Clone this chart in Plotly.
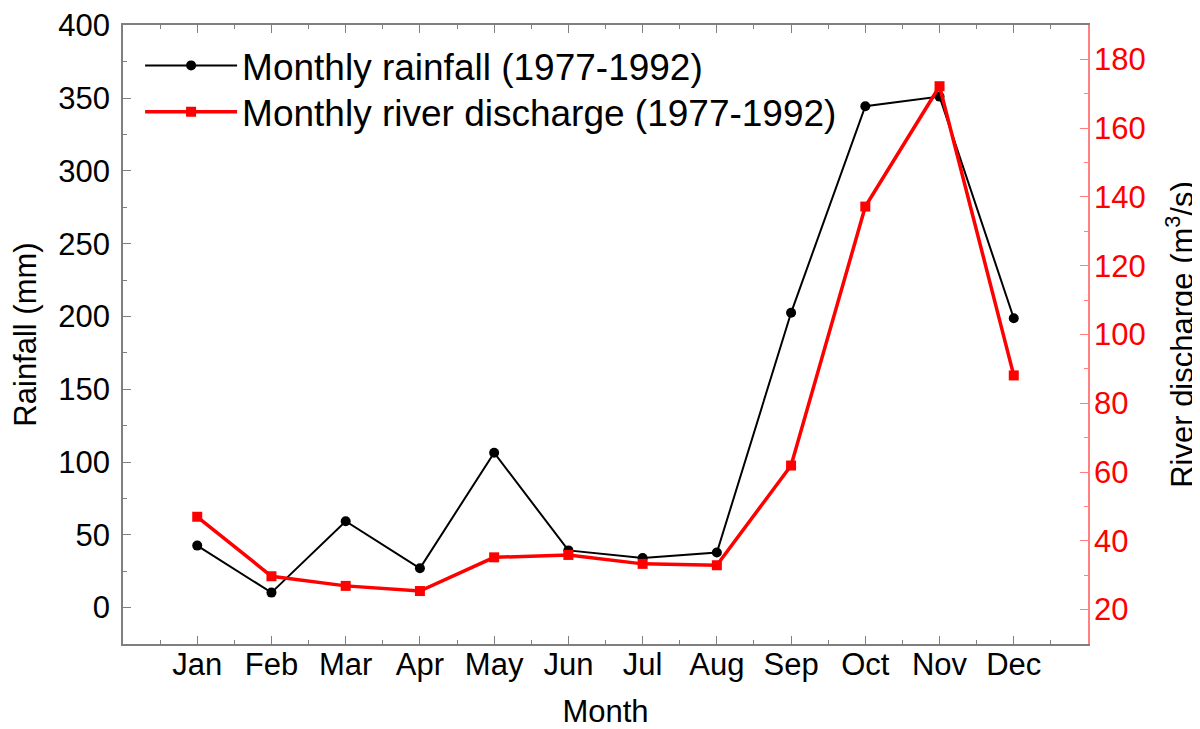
import plotly.graph_objects as go

months = ["Jan", "Feb", "Mar", "Apr", "May", "Jun", "Jul", "Aug", "Sep", "Oct", "Nov", "Dec"]
month_pos = [1, 2, 3, 4, 5, 6, 7, 8, 9, 10, 11, 12]
rainfall = [42.6, 10.3, 59.3, 27.0, 106.4, 39.3, 34.1, 37.8, 202.5, 344.4, 351.0, 198.8]
discharge = [47.0, 29.7, 26.9, 25.4, 35.2, 35.9, 33.3, 32.9, 61.9, 137.2, 172.2, 88.1]

FONT = "Liberation Sans, Arial, sans-serif"

fig = go.Figure()
fig.add_trace(go.Scatter(
    x=month_pos, y=rainfall, mode="lines+markers",
    name="Monthly rainfall (1977-1992)",
    line=dict(color="black", width=2),
    marker=dict(symbol="circle", size=10, color="black"),
    legend="legend",
))
fig.add_trace(go.Scatter(
    x=month_pos, y=discharge, mode="lines+markers",
    name="Monthly river discharge (1977-1992)",
    line=dict(color="#ff0000", width=3.5),
    marker=dict(symbol="square", size=10, color="#ff0000"),
    yaxis="y2",
    legend="legend2",
))

leg_common = dict(
    xanchor="left", yanchor="middle",
    bgcolor="rgba(0,0,0,0)", borderwidth=0,
    font=dict(size=37, family=FONT, color="black"),
    itemwidth=92,
    xref="paper", yref="paper",
)

fig.update_layout(
    width=1192, height=721,
    margin=dict(l=115, r=112, t=17, b=85),
    paper_bgcolor="white", plot_bgcolor="white",
    font=dict(family=FONT, size=31, color="black"),
    showlegend=True,
    legend=dict(x=0.0177, y=0.934, **leg_common),
    legend2=dict(x=0.0177, y=0.859, **leg_common),
    xaxis=dict(
        range=[0, 13], tickmode="array", tickvals=month_pos, ticktext=months,
        showgrid=False, zeroline=False, automargin=False,
        showline=True, linecolor="#7f7f7f", linewidth=1.5, mirror="ticks",
        ticks="inside", ticklen=8, tickcolor="#7f7f7f", tickwidth=1,
        minor=dict(dtick=0.5, tick0=0, ticks="inside", ticklen=4, tickcolor="#7f7f7f", showgrid=False),
        tickfont=dict(size=31),
        ticklabelstandoff=-8,
        title=dict(text="Month", font=dict(size=31), standoff=21),
    ),
    yaxis=dict(
        range=[-25, 400.2], tickmode="linear", tick0=0, dtick=50,
        showgrid=False, zeroline=False, automargin=False,
        showline=True, linecolor="#7f7f7f", linewidth=1.5,
        ticks="inside", ticklen=8, tickcolor="#7f7f7f", tickwidth=1,
        minor=dict(dtick=25, tick0=0, ticks="inside", ticklen=4, tickcolor="#7f7f7f", showgrid=False),
        tickfont=dict(size=31),
        ticklabelstandoff=5,
        ticklabeloverflow="allow",
        title=dict(text="Rainfall (mm)", font=dict(size=31), standoff=14),
    ),
    yaxis2=dict(
        overlaying="y", side="right",
        range=[10, 190], tickmode="linear", tick0=0, dtick=20,
        showgrid=False, zeroline=False, automargin=False,
        showline=True, linecolor="#ff8080", linewidth=1.5,
        ticks="inside", ticklen=8, tickcolor="#ff8080", tickwidth=1,
        minor=dict(dtick=10, tick0=0, ticks="inside", ticklen=4, tickcolor="#ff8080", showgrid=False),
        tickfont=dict(size=31, color="#ff0000"),
        ticklabelstandoff=-2,
        title=dict(text="River discharge (m<sup>3</sup>/s)", font=dict(size=31, color="black"), standoff=27),
    ),
)

fig.write_html("out.html")
